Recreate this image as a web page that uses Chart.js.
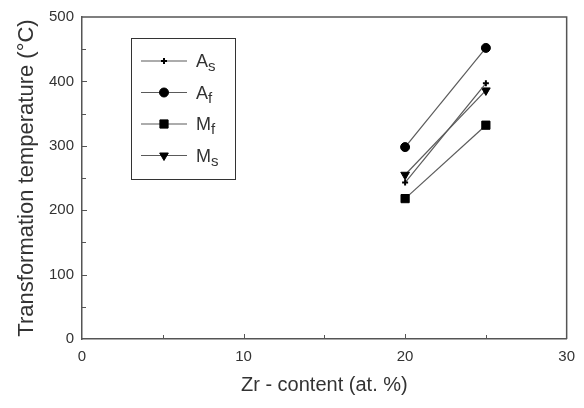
<!DOCTYPE html>
<html>
<head>
<meta charset="utf-8">
<script src="https://cdn.jsdelivr.net/npm/chart.js@4.4.3/dist/chart.umd.min.js"></script>
<style>
  html, body { margin: 0; padding: 0; background: #fff; }
  #wrap { width: 584px; height: 408px; }
</style>
</head>
<body>
<div id="wrap"><canvas id="c" width="584" height="408"></canvas></div>
<script>
// Zr content (at. %) and transformation temperatures (°C)
const zrContent = [20, 25];
const asTemp = [243, 397];
const afTemp = [298, 452];
const mfTemp = [218, 332];
const msTemp = [255, 386];

const xTicks = [0, 10, 20, 30];
const yTicks = [0, 100, 200, 300, 400, 500];

const legendMain = ['A', 'A', 'M', 'M'];
const legendSub  = ['s', 'f', 'f', 's'];

const ink = '#333';
const lineGray = '#5a5a5a';
const frameGray = '#555';
const FONT = "'Liberation Sans', Arial, sans-serif";

const pts = arr => arr.map((v, i) => ({ x: zrContent[i], y: v }));

// inward tick marks + top/right frame
const frameTicks = {
  id: 'frameTicks',
  afterDraw(chart) {
    const { ctx, chartArea: a, scales: { x, y } } = chart;
    ctx.save();
    ctx.strokeStyle = frameGray;
    ctx.lineWidth = 1;
    for (let v = 5; v < 30; v += 5) {
      const px = Math.round(x.getPixelForValue(v)) + 0.5;
      const len = v % 10 === 0 ? 5 : 4;
      ctx.beginPath(); ctx.moveTo(px, a.bottom); ctx.lineTo(px, a.bottom - len); ctx.stroke();
    }
    for (let v = 50; v < 500; v += 50) {
      const py = Math.round(y.getPixelForValue(v)) + 0.5;
      const len = v % 100 === 0 ? 5 : 4;
      ctx.beginPath(); ctx.moveTo(a.left, py); ctx.lineTo(a.left + len, py); ctx.stroke();
    }
    ctx.lineWidth = 1.5;
    ctx.beginPath();
    ctx.moveTo(a.left, a.top); ctx.lineTo(a.right, a.top); ctx.lineTo(a.right, a.bottom);
    ctx.stroke();
    ctx.restore();
  }
};

// boxed legend with subscripted labels
const subLegend = {
  id: 'subLegend',
  afterDatasetsDraw(chart) {
    const { ctx, chartArea: a } = chart;
    const bx = a.left + 49, by = a.top + 21, bw = 104, bh = 141;
    ctx.save();
    ctx.strokeStyle = ink;
    ctx.lineWidth = 1;
    ctx.strokeRect(bx + 0.5, by + 0.5, bw, bh);
    chart.data.datasets.forEach((ds, i) => {
      const ry = by + 23 + i * 31.5;
      ctx.strokeStyle = ds.borderColor;
      ctx.lineWidth = 1.2;
      ctx.beginPath(); ctx.moveTo(bx + 10, ry); ctx.lineTo(bx + 56, ry); ctx.stroke();
      ctx.fillStyle = '#000';
      ctx.strokeStyle = '#000';
      ctx.lineWidth = ds.pointBorderWidth;
      Chart.helpers.drawPoint(ctx, {
        pointStyle: ds.pointStyle, radius: ds.pointRadius,
        rotation: ds.pointRotation || 0, borderWidth: ds.pointBorderWidth
      }, bx + 33, ry);
      ctx.fillStyle = ink;
      ctx.textBaseline = 'alphabetic';
      ctx.textAlign = 'left';
      ctx.font = '18px ' + FONT;
      ctx.fillText(legendMain[i], bx + 65, ry + 6);
      const w = ctx.measureText(legendMain[i]).width;
      ctx.font = '15px ' + FONT;
      ctx.fillText(legendSub[i], bx + 65 + w, ry + 10);
    });
    ctx.restore();
  }
};

const series = (label, data, style, radius, extra = {}) => Object.assign({
  label, data: pts(data),
  borderColor: lineGray, borderWidth: 1.2,
  pointStyle: style, pointRadius: radius, pointHoverRadius: radius,
  pointBackgroundColor: '#000', pointBorderColor: '#000', pointBorderWidth: 1,
  showLine: true, fill: false, tension: 0
}, extra);

new Chart(document.getElementById('c'), {
  type: 'scatter',
  data: {
    datasets: [
      series('As', asTemp, 'cross', 3, { pointBorderWidth: 2 }),
      series('Af', afTemp, 'circle', 4.5),
      series('Mf', mfTemp, 'rect', 5.8),
      series('Ms', msTemp, 'triangle', 5, { pointRotation: 180 }),
    ]
  },
  options: {
    responsive: false,
    animation: false,
    devicePixelRatio: 1,
    layout: { padding: { top: 14, right: 15, left: 0, bottom: 0 } },
    plugins: { legend: { display: false }, tooltip: { enabled: false } },
    scales: {
      x: {
        type: 'linear', min: 0, max: 30,
        afterFit: s => { s.height = 69; },
        afterBuildTicks: s => { s.ticks = xTicks.map(v => ({ value: v })); },
        grid: { display: false, drawTicks: false },
        border: { display: true, color: frameGray, width: 1.5 },
        ticks: { color: ink, padding: 9, font: { family: FONT, size: 15 }, maxRotation: 0 },
        title: { display: true, text: 'Zr - content (at. %)', color: ink,
                 font: { family: FONT, size: 20 }, padding: { top: 0, bottom: 11 } }
      },
      y: {
        type: 'linear', min: 0, max: 500,
        afterFit: s => { s.width = 82; },
        afterBuildTicks: s => { s.ticks = yTicks.map(v => ({ value: v })); },
        grid: { display: false, drawTicks: false },
        border: { display: true, color: frameGray, width: 1.5 },
        ticks: { color: ink, padding: 8, font: { family: FONT, size: 15 } },
        title: { display: true, text: 'Transformation temperature (°C)', color: ink,
                 font: { family: FONT, size: 22 }, padding: { top: 14, bottom: 0 } }
      }
    }
  },
  plugins: [frameTicks, subLegend]
});
</script>
</body>
</html>
